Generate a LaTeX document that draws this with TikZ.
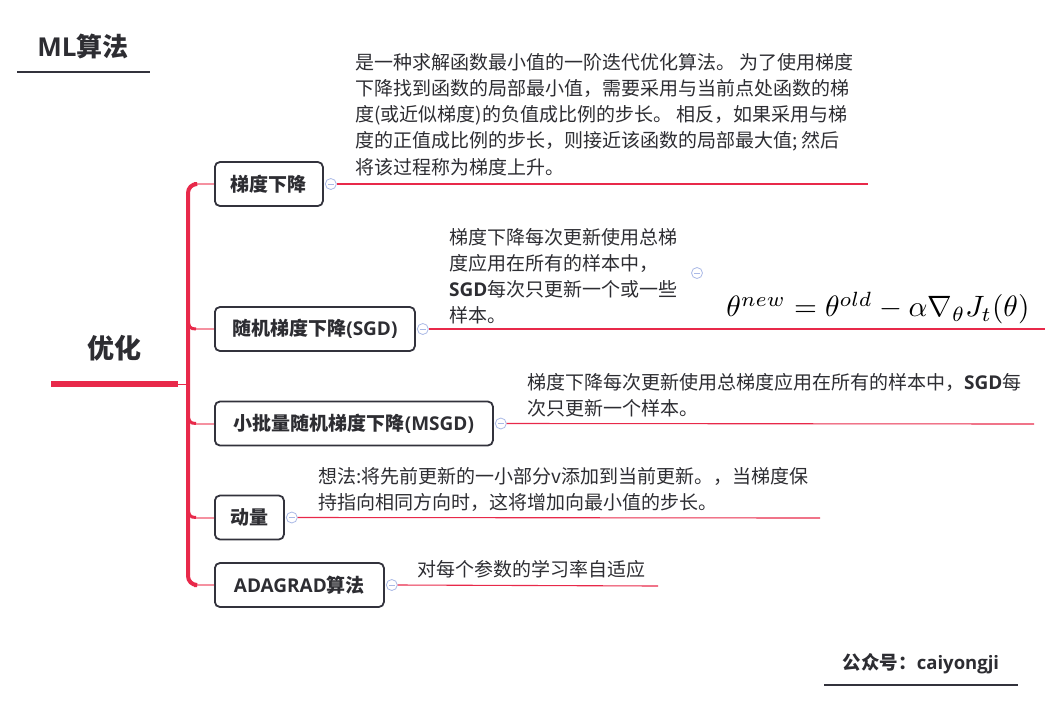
\documentclass[tikz,border=0pt]{standalone}
\usepackage{fontspec}
\setmainfont{Noto Sans CJK SC}
\newfontfamily\lat{Open Sans}
\usepackage{graphicx}
\definecolor{mred}{RGB}{232,41,74}
\definecolor{mpink}{RGB}{245,145,160}
\definecolor{mdark}{RGB}{50,50,60}
\definecolor{mtext}{RGB}{45,45,50}
\definecolor{cblue}{RGB}{170,185,230}
\begin{document}
\begin{tikzpicture}[x=1pt,y=-1pt,
  topic/.style={draw=mdark,line width=1.8pt,rounded corners=5pt,anchor=west,
    minimum height=44pt,inner xsep=4pt,inner ysep=0pt,
    font=\bfseries\fontsize{19}{22}\selectfont,text=mtext},
  collapse/.style={circle,draw=cblue,line width=0.8pt,minimum size=11pt,inner sep=0pt,fill=white,
    path picture={\draw[cblue,line width=0.8pt]
      ([xshift=-3pt]path picture bounding box.center) -- ([xshift=3pt]path picture bounding box.center);}},
  desc/.style={anchor=north west,inner sep=0pt,align=left,text=mtext,
    font=\fontsize{19}{26.2}\selectfont},
  leaf/.style={mred,line width=1.1pt},
  branch/.style={mpink,line width=2pt},
  trunk/.style={mred,line width=4pt},
  uline/.style={mdark,line width=2.5pt}
]
\useasboundingbox (0,0) rectangle (1062,702);

% title
\node[font=\bfseries\fontsize{26}{30}\selectfont,text=mtext] (title) at (83,46) {{\lat ML}算法};
\coordinate (tl0) at (17,72); \coordinate (tl1) at (150,72);
\draw[uline] (tl0) -- (tl1);

% root
\node[font=\bfseries\fontsize{27}{30}\selectfont,text=mtext] (root) at (114,348) {优化};
\coordinate (r0) at (51,384); \coordinate (r1) at (178,384); \coordinate (r2) at (188,384);
\draw[mred,line width=6pt] (r0) -- (r1);
\draw[mred,line width=1pt] (r1) -- (r2);

% topics
\node[topic,minimum width=108pt] (b1) at (214,184) {梯度下降};
\node[topic,minimum width=200pt] (b2) at (214,329) {随机梯度下降{\lat (SGD)}};
\node[topic,minimum width=278pt] (b3) at (214,423.5) {小批量随机梯度下降{\lat (MSGD)}};
\node[topic,minimum width=69pt] (b4) at (214,517.5) {动量};
\node[topic,minimum width=169pt] (b5) at (214,585) {{\lat ADAGRAD}算法};

% branches
\foreach \b in {b1,b2,b3,b4,b5}{
  \draw[branch] (\b.west) -- ++(-20,0) coordinate (\b j);
}
\draw[trunk,rounded corners=9pt] (b1j) -- ++(-6,0) |- (b5j);
\foreach \b in {b2,b3,b4}{
  \draw[mred,line width=3pt] ([xshift=-6pt,yshift=12pt]\b j) .. controls ([xshift=-6pt,yshift=2pt]\b j) and ([xshift=-4pt]\b j) .. ([xshift=2pt]\b j);
}

% collapse markers and leaf lines
\node[collapse] (c1) at ([xshift=7pt]b1.east) {};
\node[collapse] (c2) at ([xshift=7pt]b2.east) {};
\node[collapse] (c3) at ([xshift=7pt]b3.east) {};
\node[collapse] (c4) at ([xshift=7pt]b4.east) {};
\node[collapse] (c5) at ([xshift=7pt]b5.east) {};
\node[collapse] (c6) at (697,273) {};
\coordinate (e1) at (868,184);
\coordinate (e2) at (1045,329);
\coordinate (e3) at (1034,424);
\coordinate (e4) at (820,518);
\coordinate (e5) at (658,586);
\draw[leaf] (c1.east) -- (e1);
\draw[leaf] (c2.east) -- (e2);
\draw[leaf] (c3.east) -- (e3);
\draw[leaf] (c4.east) -- (e4);
\draw[leaf] (c5.east) -- (e5);

% descriptions
\node[desc] (d1) at (355,53) {是一种求解函数最小值的一阶迭代优化算法。 为了使用梯度\\下降找到函数的局部最小值，需要采用与当前点处函数的梯\\度(或近似梯度)的负值成比例的步长。 相反，如果采用与梯\\度的正值成比例的步长，则接近该函数的局部最大值; 然后\\将该过程称为梯度上升。};
\node[desc] (d2) at (449,228) {梯度下降每次更新使用总梯\\度应用在所有的样本中，\\\textbf{\lat SGD}每次只更新一个或一些\\样本。};
\node[inner sep=0pt,text=black] (f2) at (878,308) {\resizebox{303pt}{!}{$\theta^{new}=\theta^{old}-\alpha\nabla_\theta J_t(\theta)$}};
\node[desc] (d3) at (527,373) {梯度下降每次更新使用总梯度应用在所有的样本中，\textbf{\lat SGD}每\\次只更新一个样本。};
\node[desc] (d4) at (318,467) {想法:将先前更新的一小部分v添加到当前更新。，当梯度保\\持指向相同方向时，这将增加向最小值的步长。};
\node[desc] (d5) at (417,560) {对每个参数的学习率自适应};

% footer
\node[font=\bfseries\fontsize{18.5}{22}\selectfont,text=mtext] (foot) at (921,664) {公众号：{\lat caiyongji}};
\coordinate (fl0) at (824,685); \coordinate (fl1) at (1018,685);
\draw[uline] (fl0) -- (fl1);
\end{tikzpicture}
\end{document}
